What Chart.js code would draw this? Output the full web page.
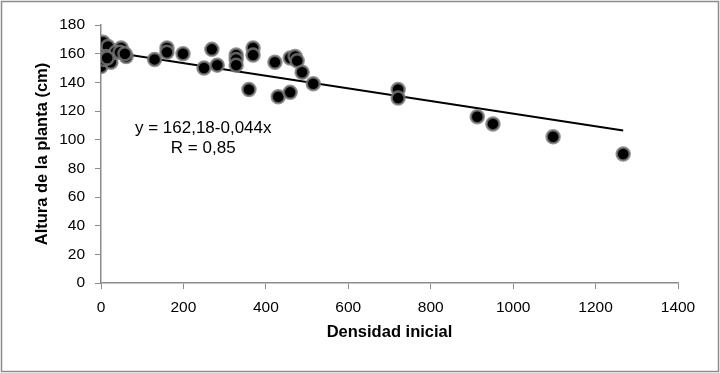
<!DOCTYPE html>
<html>
<head>
<meta charset="utf-8">
<script src="https://cdn.jsdelivr.net/npm/chart.js@4/dist/chart.umd.min.js"></script>
<style>
  html, body { margin: 0; padding: 0; background: #fff; }
  #wrap { width: 720px; height: 373px; position: relative; }
</style>
</head>
<body>
<div id="wrap"><canvas id="chart"></canvas></div>
<script>
// plant height vs initial density
var densidad = [5, 17, 49, 12, 0, 0, 24, 61, 36, 7, 15, 46, 58,
                130, 160, 160, 199, 250, 269, 282, 328, 328, 328, 359, 369, 369,
                422, 430, 459, 471, 459, 476, 488, 515, 721, 721,
                913, 951, 1097, 1267];
var altura = [168, 165, 164, 158, 154, 151, 154, 158, 161, 156, 157, 161, 160,
              156, 164, 161, 160, 150, 163, 152, 159, 156, 152, 135, 164, 159,
              154, 130, 157, 158, 133, 155, 147, 139, 135, 129,
              116, 111, 102, 90];

// linear trend line ends
var trendX = [0, 1267];
var trendY = [162.2, 106.4];

var xTicks = [0, 200, 400, 600, 800, 1000, 1200, 1400];
var yTicks = [0, 20, 40, 60, 80, 100, 120, 140, 160, 180];

var eqLines = ['y = 162,18-0,044x', 'R = 0,85'];

var FONT = '"Liberation Sans", Arial, sans-serif';
var GRAY = '#8c8c8c';

var points = densidad.map(function(d, i) { return { x: d, y: altura[i] }; });
var trend = trendX.map(function(d, i) { return { x: d, y: trendY[i] }; });

// outer frame + regression text
var extras = {
    id: 'extras',
    afterDraw: function(chart) {
	var ctx = chart.ctx;
	ctx.save();
	ctx.strokeStyle = GRAY;
	ctx.lineWidth = 1.5;
	ctx.strokeRect(1.5, 1.5, chart.width - 3, chart.height - 3);

	var xs = chart.scales.x, ys = chart.scales.y;
	ctx.fillStyle = '#000';
	ctx.font = '17px ' + FONT;
	ctx.textAlign = 'center';
	ctx.textBaseline = 'middle';
	ctx.fillText(eqLines[0], xs.getPixelForValue(248), ys.getPixelForValue(108.2));
	ctx.fillText(eqLines[1], xs.getPixelForValue(248), ys.getPixelForValue(94.2));
	ctx.restore();
    }
};

new Chart(document.getElementById('chart'), {
    type: 'scatter',
    data: {
	datasets: [
	    { type: 'line',
	      data: trend,
	      borderColor: '#000',
	      borderWidth: 2,
	      pointRadius: 0,
	      fill: false,
	      order: 2 },
	    { data: points,
	      backgroundColor: '#000',
	      borderColor: 'rgba(120,120,120,0.8)',
	      borderWidth: 2.5,
	      pointRadius: 6.5,
	      order: 1 }
	]
    },
    options: {
	responsive: true,
	maintainAspectRatio: false,
	animation: false,
	layout: { padding: { left: 30, right: 42, top: 25, bottom: 27 } },
	plugins: {
	    legend: { display: false },
	    tooltip: { enabled: false }
	},
	scales: {
	    x: {
		type: 'linear',
		min: 0, max: 1400,
		afterBuildTicks: function(s) { s.ticks = xTicks.map(function(v) { return { value: v }; }); },
		afterFit: function(s) { s.height = 63; },
		border: { color: GRAY, width: 1.5 },
		grid: { drawOnChartArea: false, drawTicks: true, tickLength: 6, color: GRAY },
		ticks: { color: '#000', padding: 9, font: { family: FONT, size: 15.5 }, maxRotation: 0,
			 callback: function(v) { return String(v); } },
		title: { display: true, text: 'Densidad inicial', color: '#000',
			 font: { family: FONT, size: 16.5, weight: 'bold' }, padding: { top: 4, bottom: 4 } }
	    },
	    y: {
		type: 'linear',
		min: 0, max: 180,
		afterBuildTicks: function(s) { s.ticks = yTicks.map(function(v) { return { value: v }; }); },
		afterFit: function(s) { s.width = 71; },
		border: { color: GRAY, width: 1.5 },
		grid: { drawOnChartArea: false, drawTicks: true, tickLength: 6, color: GRAY },
		ticks: { color: '#000', padding: 10, font: { family: FONT, size: 15.5 } },
		title: { display: true, text: 'Altura de la planta (cm)', color: '#000',
			 font: { family: FONT, size: 16.5, weight: 'bold' }, padding: { top: 3, bottom: 4 } }
	    }
	}
    },
    plugins: [extras]
});
</script>
</body>
</html>
